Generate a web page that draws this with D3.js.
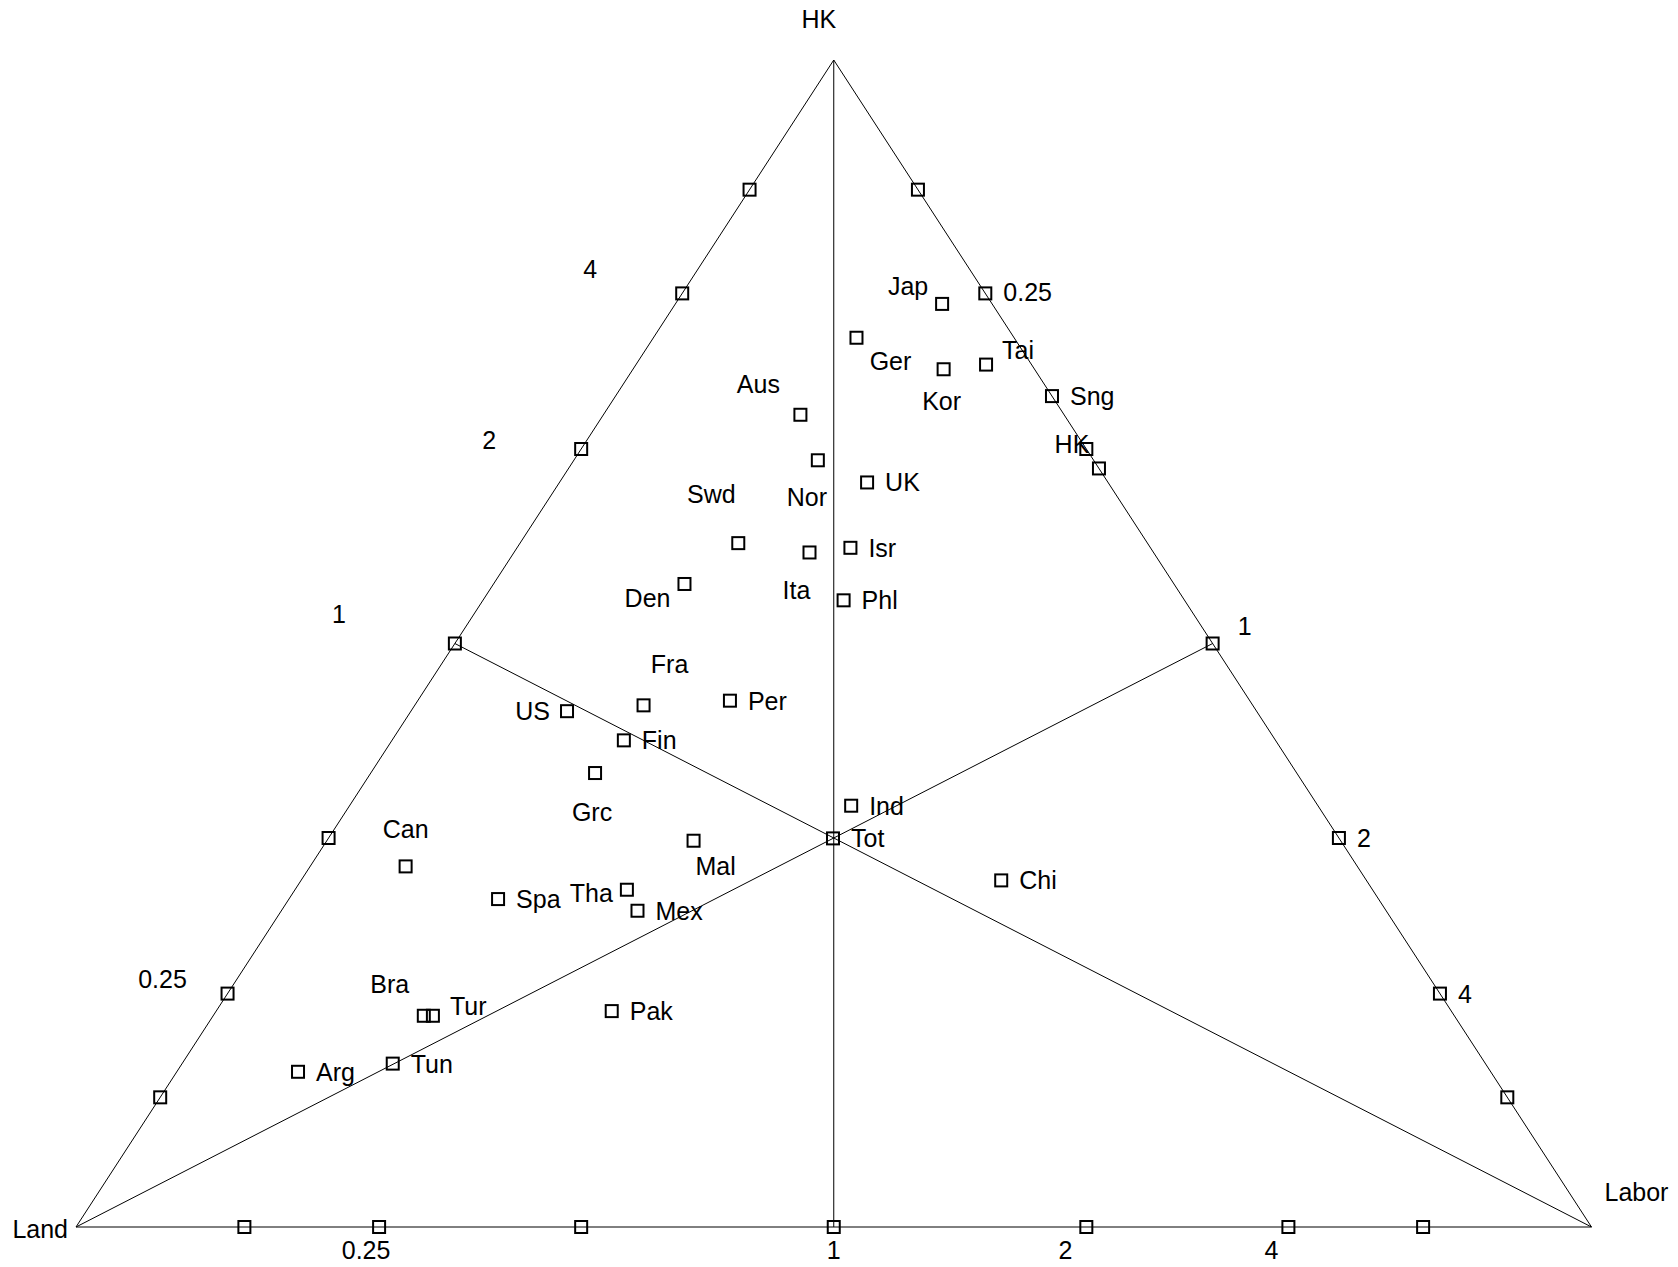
<!DOCTYPE html>
<html>
<head>
<meta charset="utf-8">
<script src="https://cdn.jsdelivr.net/npm/d3@7/dist/d3.min.js"></script>
<style>
body { margin: 0; background: #fff; }
text { font-family: "Liberation Sans", Arial, sans-serif; font-size: 25px; fill: #000; }
</style>
</head>
<body>
<div class="ternary"></div>
<script>
// endowment shares (%)
var countries  = ["Jap", "Ger", "Kor", "Tai", "Sng", "HK", "Aus", "Nor", "UK", "Swd", "Ita", "Isr", "Phl", "Den", "Fra", "Per", "US", "Fin", "Grc", "Ind", "Tot", "Mal", "Can", "Chi", "Tha", "Spa", "Mex", "Bra", "Tur", "Pak", "Arg", "Tun"];
var hkShare    = [79.1, 76.2, 73.5, 73.9, 71.2, 65.0, 69.6, 65.7, 63.8, 58.6, 57.8, 58.2, 53.7, 55.1, 44.7, 45.1, 44.2, 41.7, 38.9, 36.1, 33.3, 33.1, 30.9, 29.7, 28.9, 28.1, 27.1, 18.1, 18.1, 18.5, 13.3, 14.0];
var laborShare = [17.6, 13.4, 20.5, 23.1, 28.8, 35.0, 13.0, 16.1, 20.3, 14.4, 19.5, 22.0, 23.8, 12.6, 15.1, 20.6, 10.3, 15.3, 14.8, 33.1, 33.3, 24.2,  6.3, 46.2, 21.9, 13.8, 23.5, 13.9, 14.5, 26.1,  8.0, 13.9];
var landShare  = [ 3.3, 10.4,  6.0,  3.0,  0.0,  0.0, 17.4, 18.2, 15.9, 27.0, 22.7, 19.8, 22.5, 32.3, 40.2, 34.3, 45.5, 43.0, 46.3, 30.8, 33.4, 42.7, 62.8, 24.1, 49.2, 58.1, 49.4, 68.0, 67.4, 55.4, 78.7, 72.1];

// ratio ticks on each edge (relative to world)
var tickRatios = [1/8, 1/4, 1/2, 1, 2, 4, 8];
var tickLabels = ["", "0.25", "", "1", "2", "4", ""];
var vertexNames = ["Land", "Labor", "HK"];

// label placement: [anchor, dx, dy]
var countryLabelPos = {
    Jap: ["middle", -34, -18], Ger: ["middle", 34, 23], Kor: ["middle", -2, 32], Tai: ["middle", 32, -15],
    HK: ["middle", -27, -24], Aus: ["middle", -42, -31], Nor: ["middle", -11, 37], Swd: ["middle", -27, -49],
    Ita: ["middle", -13, 38], Den: ["end", -14, 14], Fra: ["middle", 26, -41], US: ["end", -17, 0],
    Grc: ["middle", -3, 39], Mal: ["middle", 22, 25], Tha: ["end", -14, 3], Can: ["middle", 0, -37],
    Bra: ["middle", -34, -32], Tur: ["start", 17, -10]
};
var bottomLabelPos = {"0.25": [-13, 23], "1": [0, 23], "2": [-21, 23], "4": [-17, 23]};
var leftLabelPos = {"0.25": [-65, -15], "1": [-116, -30], "2": [-92, -9], "4": [-92, -24]};
var rightLabelPos = {"0.25": [18, -1], "1": [25, -18], "2": [18, 0], "4": [18, 0]};

function chart() {
    var width = 1678, height = 1267;

    var x = d3.scaleLinear().domain([0, 1]).range([76, 1591.5]);
    var y = d3.scaleLinear().domain([0, 1]).range([1227, 60]);

    function project(land, labor, hk) {
        var s = land + labor + hk;
        return [x((labor + hk / 2) / s), y(hk / s)];
    }

    var svg = d3.select(".ternary").append("svg")
            .attr("width", width)
            .attr("height", height);

    var line = d3.line();
    var vLand = project(1, 0, 0), vLabor = project(0, 1, 0), vHK = project(0, 0, 1);

    // triangle
    svg.append("path")
            .attr("d", line([vLand, vLabor, vHK]) + "Z")
            .attr("fill", "none")
            .attr("stroke", "#000")
            .attr("stroke-width", 1);

    // lines from each corner through the world point
    [[vLand, project(0, 1, 1)], [vLabor, project(1, 0, 1)], [vHK, project(1, 1, 0)]].forEach(function (seg) {
        svg.append("path")
                .attr("d", line(seg))
                .attr("stroke", "#000")
                .attr("stroke-width", 1);
    });

    // edge ticks
    var ticks = [];
    tickRatios.forEach(function (r, i) {
        ticks.push({p: project(1, r, 0), label: tickLabels[i], edge: "bottom"});
        ticks.push({p: project(1, 0, r), label: tickLabels[i], edge: "left"});
        ticks.push({p: project(0, r, 1), label: tickLabels[i], edge: "right"});
    });

    svg.selectAll(".tick").data(ticks).enter().append("rect")
            .attr("class", "tick")
            .attr("x", function (d) { return d.p[0] - 6; })
            .attr("y", function (d) { return d.p[1] - 6; })
            .attr("width", 12).attr("height", 12)
            .attr("fill", "none").attr("stroke", "#000").attr("stroke-width", 2);

    svg.selectAll(".ticklabel").data(ticks.filter(function (d) { return d.label; })).enter().append("text")
            .attr("class", "ticklabel")
            .attr("text-anchor", function (d) { return d.edge == "right" ? "start" : "middle"; })
            .attr("x", function (d) {
                var o = d.edge == "bottom" ? bottomLabelPos : d.edge == "left" ? leftLabelPos : rightLabelPos;
                return d.p[0] + o[d.label][0];
            })
            .attr("y", function (d) {
                var o = d.edge == "bottom" ? bottomLabelPos : d.edge == "left" ? leftLabelPos : rightLabelPos;
                return d.p[1] + o[d.label][1] + 9;
            })
            .text(function (d) { return d.label; });

    // corner names
    var corners = [
        {p: vLand, name: vertexNames[0], anchor: "end", dx: -8, dy: 2},
        {p: vLabor, name: vertexNames[1], anchor: "start", dx: 13, dy: -35},
        {p: vHK, name: vertexNames[2], anchor: "middle", dx: -15, dy: -41}
    ];
    svg.selectAll(".corner").data(corners).enter().append("text")
            .attr("class", "corner")
            .attr("text-anchor", function (d) { return d.anchor; })
            .attr("x", function (d) { return d.p[0] + d.dx; })
            .attr("y", function (d) { return d.p[1] + d.dy + 9; })
            .text(function (d) { return d.name; });

    // countries
    var pts = countries.map(function (c, i) {
        return {name: c, p: project(landShare[i], laborShare[i], hkShare[i])};
    });

    svg.selectAll(".pt").data(pts).enter().append("rect")
            .attr("class", "pt")
            .attr("x", function (d) { return d.p[0] - 6; })
            .attr("y", function (d) { return d.p[1] - 6; })
            .attr("width", 12).attr("height", 12)
            .attr("fill", "none").attr("stroke", "#000").attr("stroke-width", 2);

    svg.selectAll(".ptlabel").data(pts).enter().append("text")
            .attr("class", "ptlabel")
            .attr("text-anchor", function (d) { return (countryLabelPos[d.name] || ["start"])[0]; })
            .attr("x", function (d) { return d.p[0] + (countryLabelPos[d.name] || [0, 18])[1]; })
            .attr("y", function (d) { return d.p[1] + (countryLabelPos[d.name] || [0, 0, 0])[2] + 9; })
            .text(function (d) { return d.name; });
}

chart();
</script>
</body>
</html>
